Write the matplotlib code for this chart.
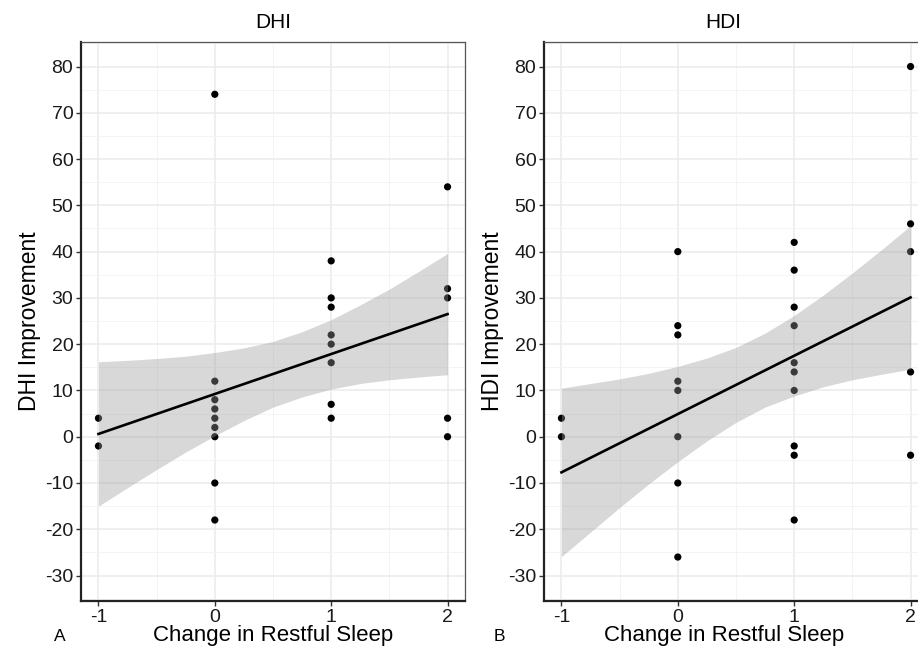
import numpy as np
import matplotlib
matplotlib.use("Agg")
import matplotlib.pyplot as plt

plt.rcParams["font.family"] = ["Liberation Sans", "DejaVu Sans"]
plt.rcParams["axes.unicode_minus"] = False

# restful sleep change (x) and improvement scores (y)
dhi_x = [-1, -1,
         0, 0, 0, 0, 0, 0, 0, 0, 0,
         1, 1, 1, 1, 1, 1, 1, 1,
         2, 2, 2, 2, 2]
dhi_y = [4, -2,
         74, 12, 8, 6, 4, 2, 0, -10, -18,
         38, 30, 28, 22, 20, 16, 7, 4,
         54, 32, 30, 4, 0]

hdi_x = [-1, -1,
         0, 0, 0, 0, 0, 0, 0, 0,
         1, 1, 1, 1, 1, 1, 1, 1, 1, 1,
         2, 2, 2, 2, 2]
hdi_y = [4, 0,
         40, 24, 22, 12, 10, 0, -10, -26,
         42, 36, 28, 24, 16, 14, 10, -2, -4, -18,
         80, 46, 40, 14, -4]

# linear fit and its 95% band
band_x = [-1, -0.75, -0.5, -0.25, 0, 0.25, 0.5, 0.75, 1, 1.25, 1.5, 1.75, 2]
dhi_fit = [0.6, 26.5]
dhi_lo = [-15.0, -11.0, -7.1, -3.3, 0.2, 3.5, 6.4, 8.6, 10.3, 11.5, 12.3, 12.9, 13.4]
dhi_hi = [16.2, 16.5, 16.9, 17.4, 18.2, 19.2, 20.6, 22.7, 25.3, 28.5, 31.9, 35.7, 39.6]
hdi_fit = [-7.7, 30.1]
hdi_lo = [-25.9, -20.6, -15.3, -10.2, -5.4, -0.9, 3.1, 6.4, 8.8, 10.8, 12.3, 13.5, 14.6]
hdi_hi = [10.5, 11.5, 12.5, 13.7, 15.2, 17.0, 19.3, 22.4, 26.2, 30.6, 35.4, 40.4, 45.6]

x_ticks = [-1, 0, 1, 2]
y_ticks = [-30, -20, -10, 0, 10, 20, 30, 40, 50, 60, 70, 80]

fig = plt.figure(figsize=(9.18, 6.55), dpi=100)
W, H = 918, 655


def panel(left, xs, ys, fit, lo, hi, title, ylabel, letter, label_x):
    ax = fig.add_axes([left / W, (H - 601) / H, 384 / W, 559 / H])
    ax.set_xlim(-1.15, 2.15)
    ax.set_ylim(-35.5, 85.3)
    ax.set_xticks(x_ticks)
    ax.set_yticks(y_ticks)
    ax.set_xticks(np.arange(-0.5, 2.0, 1.0), minor=True)
    ax.set_yticks(np.arange(-35, 86, 10), minor=True)
    ax.grid(True, which="major", color="#ebebeb", lw=1.1, zorder=0)
    ax.grid(True, which="minor", color="#f3f3f3", lw=0.6, zorder=0)
    ax.set_axisbelow(True)

    ax.scatter(xs, ys, s=27, color="black", edgecolors="none", zorder=2)
    ax.fill_between(band_x, lo, hi, color="#999999", alpha=0.38, lw=0, zorder=3)
    ax.plot([-1, 2], fit, color="black", lw=1.9, zorder=4)

    for side in ("top", "right"):
        ax.spines[side].set_color("#555555")
        ax.spines[side].set_linewidth(0.9)
    for side in ("left", "bottom"):
        ax.spines[side].set_color("#222222")
        ax.spines[side].set_linewidth(1.6)
    ax.tick_params(which="major", length=3.5, width=1.0, color="#333333",
                   labelsize=14, labelcolor="#1a1a1a", pad=2)
    ax.tick_params(which="minor", length=0)

    ax.set_title(title, fontsize=15, x=label_x, pad=10)
    ax.set_ylabel(ylabel, fontsize=16.5, labelpad=3)
    ax.set_xlabel("Change in Restful Sleep", fontsize=16, va="center")
    ax.xaxis.set_label_coords(label_x, (601 - 636) / 559)
    fig.text(letter[1] / W, 1 - 636.5 / H, letter[0], fontsize=12.5,
             ha="center", va="center")
    return ax


panel(81, dhi_x, dhi_y, dhi_fit, dhi_lo, dhi_hi, "DHI", "DHI Improvement", ("A", 60), 0.5)
panel(544, hdi_x, hdi_y, hdi_fit, hdi_lo, hdi_hi, "HDI", "HDI Improvement", ("B", 499), 0.468)

fig.savefig("out.png", dpi=100)
